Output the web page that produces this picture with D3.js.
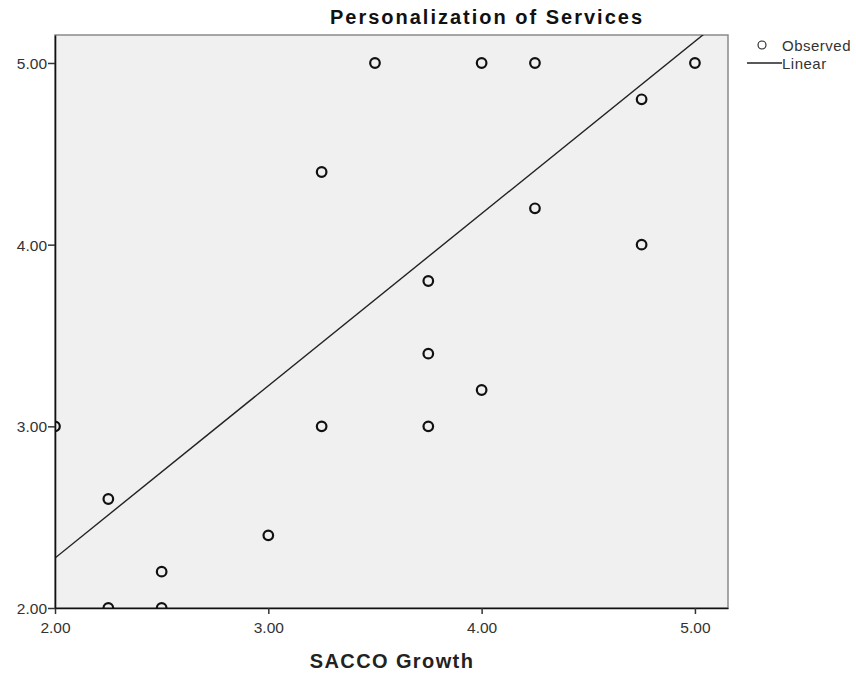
<!DOCTYPE html>
<html>
<head>
<meta charset="utf-8">
<script src="https://cdn.jsdelivr.net/npm/d3@7/dist/d3.min.js"></script>
<style>
  body { margin: 0; background: #fff; }
  svg { display: block; }
  text { font-family: "Liberation Sans", Arial, sans-serif; }
</style>
</head>
<body>
<svg id="chart" width="856" height="675"></svg>
<script>
// Observed values: SACCO Growth (x) vs Personalization of Services (y)
const growth = [2.00, 2.25, 2.25, 2.50, 2.50, 3.00, 3.25, 3.25, 3.50, 3.75, 3.75, 3.75, 4.00, 4.00, 4.25, 4.25, 4.75, 4.75, 5.00];
const personalization = [3.00, 2.60, 2.00, 2.20, 2.00, 2.40, 4.40, 3.00, 5.00, 3.80, 3.40, 3.00, 5.00, 3.20, 5.00, 4.20, 4.80, 4.00, 5.00];
// Fitted linear model: [intercept, slope]
const linearFit = [0.379, 0.948];
const xTicks = [2, 3, 4, 5];
const yTicks = [2, 3, 4, 5];
const legendItems = ["Observed", "Linear"];

const svg = d3.select("#chart");
const plot = { left: 55, top: 35, right: 728, bottom: 608 };

const x = d3.scaleLinear().domain([2, 5.155]).range([plot.left, plot.right]);
const y = d3.scaleLinear().domain([2, 5.154]).range([plot.bottom, plot.top]);

// Plot background and frame
svg.append("rect")
  .attr("x", plot.left).attr("y", plot.top)
  .attr("width", plot.right - plot.left).attr("height", plot.bottom - plot.top)
  .attr("fill", "#f0f0f0").attr("stroke", "#8a8a8a").attr("stroke-width", 1.5);

svg.append("clipPath").attr("id", "plotClip")
  .append("rect")
  .attr("x", plot.left).attr("y", plot.top)
  .attr("width", plot.right - plot.left).attr("height", plot.bottom - plot.top);

const inner = svg.append("g").attr("clip-path", "url(#plotClip)");

// Regression line
const lineX = x.domain();
inner.append("path")
  .datum(lineX.map(v => [v, linearFit[0] + linearFit[1] * v]))
  .attr("d", d3.line().x(d => x(d[0])).y(d => y(d[1])))
  .attr("fill", "none").attr("stroke", "#222").attr("stroke-width", 1.4);

// Observed points
inner.selectAll("circle.obs")
  .data(growth.map((g, i) => [g, personalization[i]]))
  .join("circle")
  .attr("class", "obs")
  .attr("cx", d => x(d[0])).attr("cy", d => y(d[1]))
  .attr("r", 4.8)
  .attr("fill", "none").attr("stroke", "#111").attr("stroke-width", 2.2);

// Axes
const fmt = d3.format(".2f");
const xAxis = svg.append("g")
  .attr("transform", `translate(0,${plot.bottom})`)
  .call(d3.axisBottom(x).tickValues(xTicks).tickFormat(fmt).tickSize(6).tickSizeOuter(0));
const yAxis = svg.append("g")
  .attr("transform", `translate(${plot.left},0)`)
  .call(d3.axisLeft(y).tickValues(yTicks).tickFormat(fmt).tickSize(7).tickSizeOuter(0));

[xAxis, yAxis].forEach(a => {
  a.select(".domain").attr("stroke", "#111").attr("stroke-width", 1.6);
  a.selectAll(".tick line").attr("stroke", "#333").attr("stroke-width", 1.5);
  a.selectAll(".tick text")
    .attr("fill", "#333")
    .style("font-family", "'Liberation Sans', Arial, sans-serif")
    .style("font-size", "15.5px");
});
xAxis.selectAll(".tick text").attr("dy", null).attr("y", 25);
yAxis.selectAll(".tick text").attr("x", -8).attr("dy", "0.36em");

// Title
svg.append("text")
  .attr("x", 487).attr("y", 24)
  .attr("text-anchor", "middle")
  .style("font-size", "20px").style("font-weight", "bold")
  .style("letter-spacing", "2px")
  .attr("fill", "#111")
  .text("Personalization of Services");

// X axis title
svg.append("text")
  .attr("x", 392).attr("y", 668)
  .attr("text-anchor", "middle")
  .style("font-size", "20px").style("font-weight", "bold")
  .style("letter-spacing", "1.4px")
  .attr("fill", "#222")
  .text("SACCO Growth");

// Legend
const legend = svg.append("g");
legend.append("circle")
  .attr("cx", 762).attr("cy", 45).attr("r", 4)
  .attr("fill", "none").attr("stroke", "#222").attr("stroke-width", 1.1);
legend.append("line")
  .attr("x1", 747).attr("x2", 782).attr("y1", 63).attr("y2", 63)
  .attr("stroke", "#222").attr("stroke-width", 1.4);
legend.selectAll("text.leg")
  .data(legendItems)
  .join("text")
  .attr("class", "leg")
  .attr("x", 782).attr("y", (d, i) => 51 + i * 18)
  .style("font-size", "15px")
  .style("letter-spacing", "0.5px")
  .attr("fill", "#333")
  .text(d => d);
</script>
</body>
</html>
